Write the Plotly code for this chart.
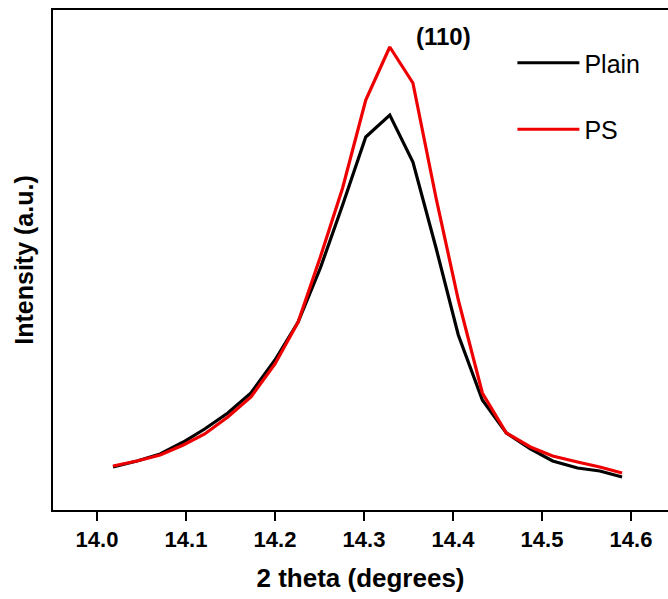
import plotly.graph_objects as go

two_theta = [14.018, 14.045, 14.071, 14.097, 14.121, 14.147, 14.173, 14.200,
             14.226, 14.251, 14.276, 14.302, 14.329, 14.355, 14.381, 14.406,
             14.433, 14.460, 14.487, 14.512, 14.540, 14.565, 14.590]

plain = [43, 49, 56, 68, 81, 97, 117, 150, 188, 242, 305, 373, 395, 348,
         262, 175, 110, 77, 61, 49, 42, 39, 33]

ps = [44, 49, 55, 65, 76, 93, 113, 146, 188, 253, 322, 410, 463, 427,
      312, 210, 117, 77, 63, 54, 48, 43, 37]

x_ticks = [14.0, 14.1, 14.2, 14.3, 14.4, 14.5, 14.6]
x_tick_labels = ["14.0", "14.1", "14.2", "14.3", "14.4", "14.5", "14.6"]

FONT = "Arial, Liberation Sans, sans-serif"

fig = go.Figure()
fig.add_trace(go.Scatter(x=two_theta, y=plain, mode="lines", name="Plain",
                         legendgroup="a",
                         line=dict(color="black", width=3.2)))
fig.add_trace(go.Scatter(x=two_theta, y=ps, mode="lines", name="PS",
                         legendgroup="b",
                         line=dict(color="#ee0000", width=3.2)))

fig.add_annotation(x=14.389, y=474, xref="x", yref="y", text="<b>(110)</b>",
                   showarrow=False, font=dict(family=FONT, size=24, color="black"))

fig.update_layout(
    width=668, height=599,
    margin=dict(l=53, r=0, t=10, b=89),
    paper_bgcolor="white", plot_bgcolor="white",
    font=dict(family=FONT, color="black"),
    showlegend=True,
    legend=dict(x=0.747, y=0.94, xanchor="left", yanchor="top",
                font=dict(family=FONT, size=25, color="black"),
                bgcolor="rgba(0,0,0,0)", tracegroupgap=31,
                itemwidth=62),
    xaxis=dict(range=[13.9506, 14.6416], tickvals=x_ticks, ticktext=x_tick_labels,
               ticks="outside", ticklen=9, tickwidth=2, tickcolor="black",
               showline=True, linewidth=2, linecolor="black", mirror=True,
               showgrid=False, zeroline=False,
               tickfont=dict(family=FONT, size=22, color="black", weight="bold"),
               title=dict(text="<b>2 theta (degrees)</b>", standoff=17,
                          font=dict(family=FONT, size=26, color="black"))),
    yaxis=dict(range=[0, 500], showticklabels=False, ticks="",
               showline=True, linewidth=2, linecolor="black", mirror=False,
               showgrid=False, zeroline=False,
               title=dict(text="<b>Intensity (a.u.)</b>", standoff=10,
                          font=dict(family=FONT, size=25, color="black"))),
)

fig.write_html("out.html")
